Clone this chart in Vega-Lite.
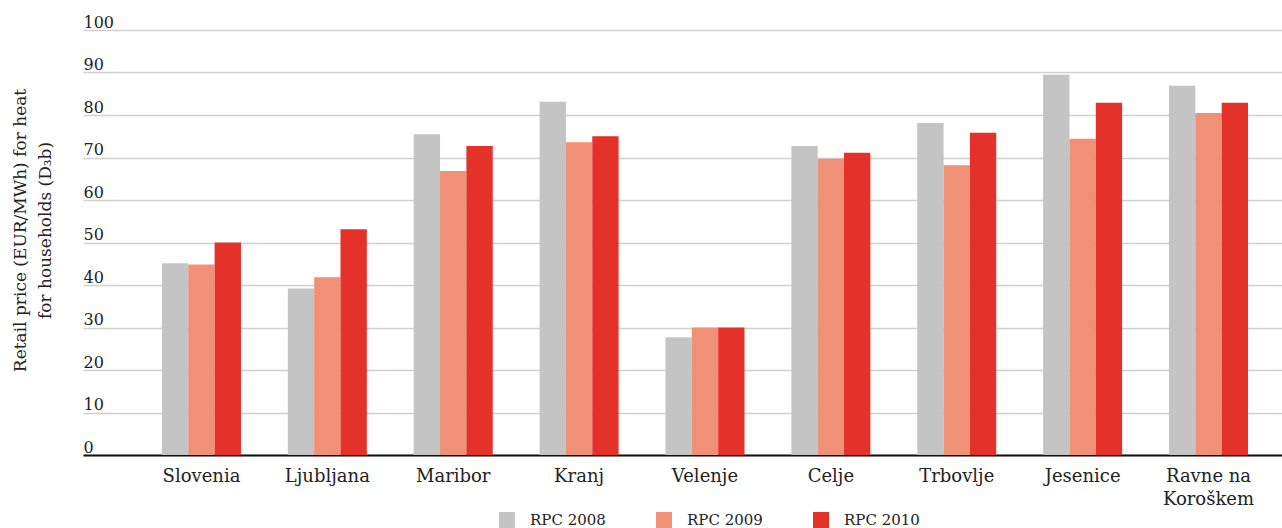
{
  "$schema": "https://vega.github.io/schema/vega-lite/v6.json",
  "width": 1199,
  "height": 425,
  "autosize": {"type": "none"},
  "padding": {"left": 83, "top": 30, "right": 0, "bottom": 73},
  "background": "white",
  "config": {
    "view": {"stroke": null},
    "font": "DejaVu Serif"
  },
  "data": {
    "values": [
      {"city": "Slovenia", "series": "RPC 2008", "value": 45.1},
      {"city": "Slovenia", "series": "RPC 2009", "value": 44.8},
      {"city": "Slovenia", "series": "RPC 2010", "value": 50.0},
      {"city": "Ljubljana", "series": "RPC 2008", "value": 39.2},
      {"city": "Ljubljana", "series": "RPC 2009", "value": 41.8},
      {"city": "Ljubljana", "series": "RPC 2010", "value": 53.1},
      {"city": "Maribor", "series": "RPC 2008", "value": 75.5},
      {"city": "Maribor", "series": "RPC 2009", "value": 66.8},
      {"city": "Maribor", "series": "RPC 2010", "value": 72.7},
      {"city": "Kranj", "series": "RPC 2008", "value": 83.1},
      {"city": "Kranj", "series": "RPC 2009", "value": 73.6},
      {"city": "Kranj", "series": "RPC 2010", "value": 75.0},
      {"city": "Velenje", "series": "RPC 2008", "value": 27.7},
      {"city": "Velenje", "series": "RPC 2009", "value": 30.0},
      {"city": "Velenje", "series": "RPC 2010", "value": 30.0},
      {"city": "Celje", "series": "RPC 2008", "value": 72.7},
      {"city": "Celje", "series": "RPC 2009", "value": 69.7},
      {"city": "Celje", "series": "RPC 2010", "value": 71.1},
      {"city": "Trbovlje", "series": "RPC 2008", "value": 78.1},
      {"city": "Trbovlje", "series": "RPC 2009", "value": 68.2},
      {"city": "Trbovlje", "series": "RPC 2010", "value": 75.8},
      {"city": "Jesenice", "series": "RPC 2008", "value": 89.5},
      {"city": "Jesenice", "series": "RPC 2009", "value": 74.4},
      {"city": "Jesenice", "series": "RPC 2010", "value": 82.9},
      {"city": "Ravne na Koroškem", "series": "RPC 2008", "value": 86.9},
      {"city": "Ravne na Koroškem", "series": "RPC 2009", "value": 80.5},
      {"city": "Ravne na Koroškem", "series": "RPC 2010", "value": 82.9}
    ]
  },
  "mark": {"type": "bar"},
  "encoding": {
    "x": {
      "field": "city",
      "type": "nominal",
      "sort": null,
      "scale": {"paddingInner": 0.3724, "paddingOuter": 0.4487, "align": 0.699},
      "axis": {
        "title": null,
        "ticks": false,
        "tickSize": 0,
        "domain": true,
        "domainColor": "#111111",
        "domainWidth": 2,
        "grid": false,
        "labelAngle": 0,
        "labelFontSize": 18,
        "labelColor": "#222222",
        "labelPadding": 12,
        "labelLineHeight": 23,
        "labelExpr": "datum.value == 'Ravne na Koroškem' ? ['Ravne na', 'Koroškem'] : datum.value"
      }
    },
    "xOffset": {
      "field": "series",
      "type": "nominal",
      "sort": ["RPC 2008", "RPC 2009", "RPC 2010"],
      "scale": {"paddingInner": 0, "paddingOuter": 0}
    },
    "y": {
      "field": "value",
      "type": "quantitative",
      "scale": {"domain": [0, 100], "nice": false},
      "axis": {
        "values": [0, 10, 20, 30, 40, 50, 60, 70, 80, 90, 100],
        "grid": true,
        "gridColor": "#d0d0d0",
        "gridWidth": 1.6,
        "ticks": false,
        "tickSize": 0,
        "domain": false,
        "labelAlign": "left",
        "labelBaseline": "alphabetic",
        "labelPadding": 0,
        "labelOffset": -3,
        "labelFontSize": 16,
        "labelColor": "#222222",
        "title": ["Retail price (EUR/MWh) for heat", "for households (D₃b)"],
        "titleFontSize": 17,
        "titleFontWeight": "normal",
        "titleColor": "#222222",
        "titleAngle": -90,
        "titleAlign": "center",
        "titleBaseline": "bottom",
        "titleLineHeight": 25,
        "titleX": -54,
        "titleY": 200
      }
    },
    "color": {
      "field": "series",
      "type": "nominal",
      "scale": {
        "domain": ["RPC 2008", "RPC 2009", "RPC 2010"],
        "range": ["#c4c4c4", "#f09077", "#e4322b"]
      },
      "legend": {
        "title": null,
        "orient": "none",
        "legendX": 416,
        "legendY": 482,
        "direction": "horizontal",
        "symbolType": "square",
        "symbolSize": 256,
        "symbolStrokeWidth": 0,
        "symbolOpacity": 1,
        "labelFontSize": 15,
        "labelColor": "#222222",
        "labelOffset": 15,
        "columnPadding": 50,
        "padding": 0
      }
    }
  }
}
